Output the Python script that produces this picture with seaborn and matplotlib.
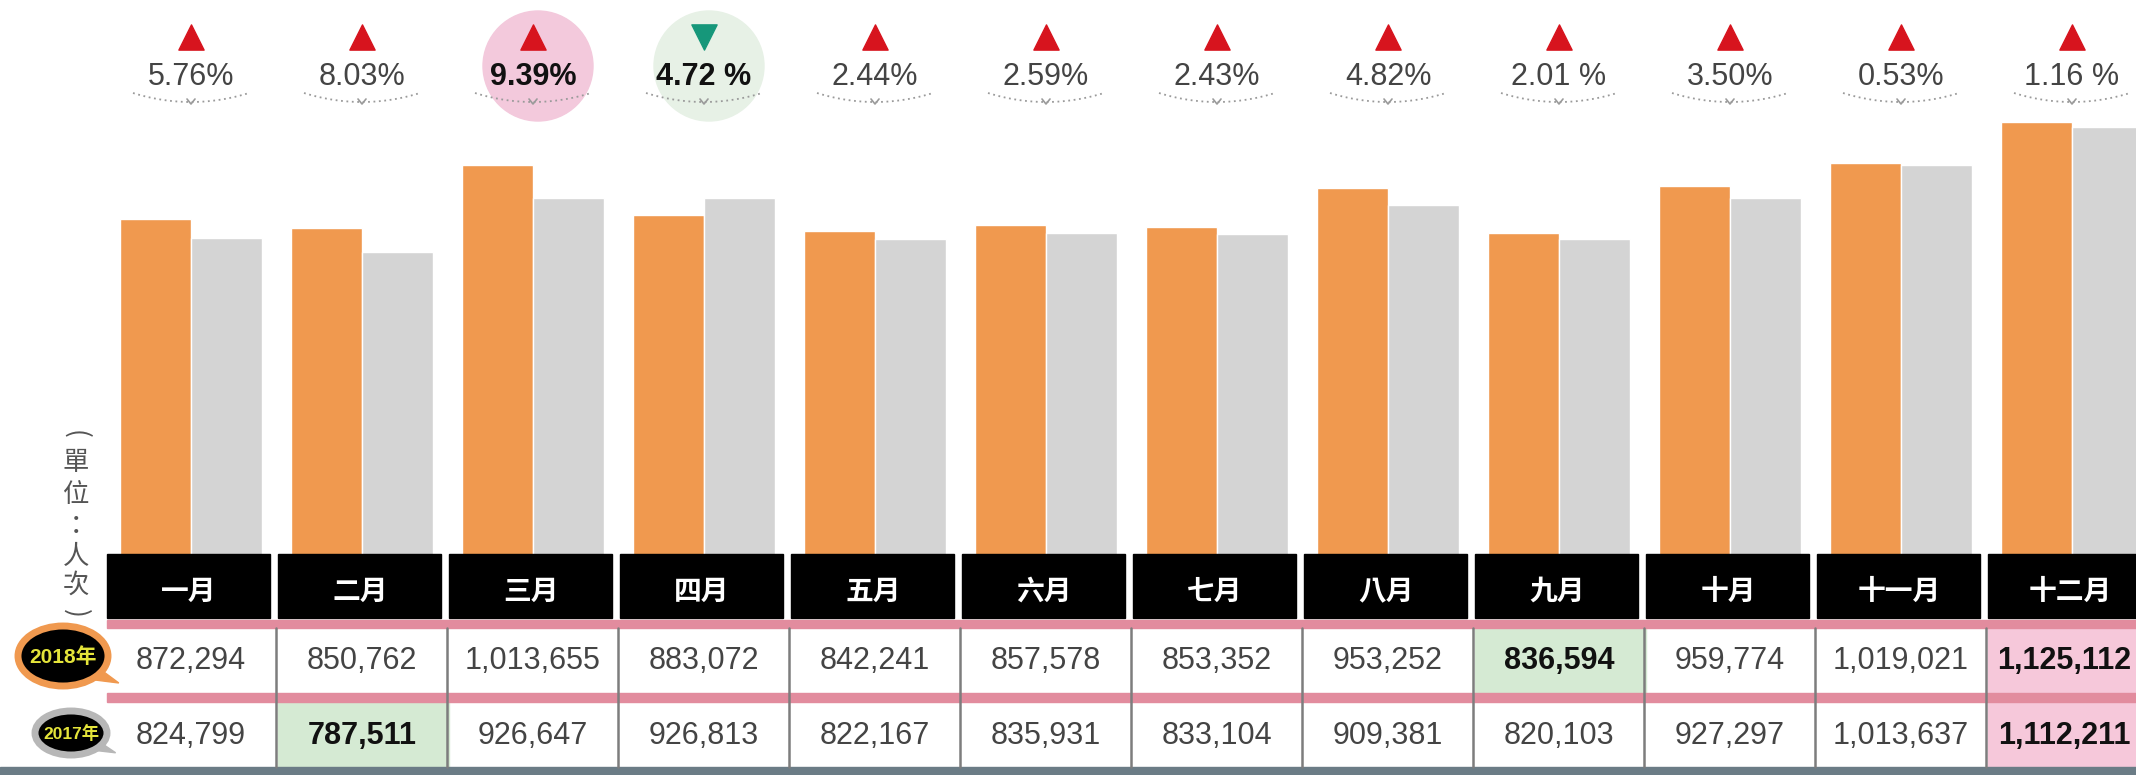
import numpy as np
import pandas as pd
import matplotlib
matplotlib.use("Agg")
import matplotlib.pyplot as plt
from matplotlib.patches import Rectangle, Ellipse, Circle, Polygon
import seaborn as sns

# data
months = ["一月", "二月", "三月", "四月", "五月", "六月",
          "七月", "八月", "九月", "十月", "十一月", "十二月"]
v2018 = [872294, 850762, 1013655, 883072, 842241, 857578,
         853352, 953252, 836594, 959774, 1019021, 1125112]
v2017 = [824799, 787511, 926647, 926813, 822167, 835931,
         833104, 909381, 820103, 927297, 1013637, 1112211]
pct_labels = ["5.76%", "8.03%", "9.39%", "4.72 %", "2.44%", "2.59%",
              "2.43%", "4.82%", "2.01 %", "3.50%", "0.53%", "1.16 %"]
pct_up = [True, True, True, False, True, True,
          True, True, True, True, True, True]

# highlighted cells (index -> background colour)
hl_pct = {2: "#f3c9dc", 3: "#e7f1e6"}
hl_2018 = {8: "#d5ead3", 11: "#f6c8da"}
hl_2017 = {1: "#d5ead3", 11: "#f6c8da"}

ORANGE = "#f0994f"
GREY = "#d4d4d4"
NUM_FONT = ["Liberation Sans", "DejaVu Sans"]
CJK_FONT = ["Noto Sans CJK TC", "DejaVu Sans"]

sns.set_theme(style="white")
plt.rcParams["font.family"] = NUM_FONT + ["Noto Sans CJK TC"]

W, H = 2136, 775
fig = plt.figure(figsize=(W / 100, H / 100), dpi=100)
fig.patch.set_facecolor("white")

# layout in pixels
x_first, x_step = 191, 171
base_px, px_per = 556, 3.86e-4
cx = [x_first + x_step * i for i in range(len(months))]

# bars
df = pd.DataFrame({
    "month": months * 2,
    "value": v2018 + v2017,
    "year": ["2018年"] * 12 + ["2017年"] * 12,
})
ax = fig.add_axes([0, 0, 1, 1])
sns.barplot(data=df, x="month", y="value", hue="year", order=months,
            hue_order=["2018年", "2017年"],
            palette={"2018年": ORANGE, "2017年": GREY},
            width=0.83, saturation=1, legend=False, ax=ax)
ax.set_xlim(-x_first / x_step, (W - x_first) / x_step)
ax.set_ylim((base_px - H) / px_per, base_px / px_per)
ax.axis("off")

# overlay in pixel coordinates
ov = fig.add_axes([0, 0, 1, 1])
ov.set_xlim(0, W)
ov.set_ylim(H, 0)
ov.axis("off")
ov.patch.set_alpha(0)

# percentage row
for i, x in enumerate(cx):
    if i in hl_pct:
        ov.add_patch(Circle((x + 5, 66), 55, color=hl_pct[i], zorder=1))
    if pct_up[i]:
        ov.scatter([x], [37], marker="^", s=330, color="#d7141e", zorder=3)
    else:
        ov.scatter([x], [37], marker="v", s=330, color="#16977a", zorder=3)
    bold = i in hl_pct
    ov.text(x, 77, pct_labels[i], ha="center", va="center", fontsize=22,
            family=NUM_FONT, color="#111111" if bold else "#444444",
            fontweight="bold" if bold else "normal", zorder=4)
    t = np.linspace(-1, 1, 40)
    ov.plot(x + 58 * t, 93 + 9 * (1 - t ** 2), ls=(0, (1, 2)), lw=1.3,
            color="#9a9a9a", zorder=3)
    ov.plot([x - 4, x, x + 4], [99, 104, 99], lw=1.2, color="#9a9a9a", zorder=3)

# month header boxes
for i, x in enumerate(cx):
    ov.add_patch(Rectangle((x - 84, 554), 163, 64, color="black", zorder=2))
    ov.text(x - 2, 592, months[i], ha="center", va="center", fontsize=20,
            family=CJK_FONT, fontweight="bold", color="white", zorder=3)

# table rows
ov.add_patch(Rectangle((107, 620), W - 107, 8, color="#e28c9e", zorder=2))
ov.add_patch(Rectangle((107, 693), W - 107, 9, color="#e28c9e", zorder=2))
ov.add_patch(Rectangle((0, 767), W, 8, color="#6b7c86", zorder=2))

rows = [(v2018, hl_2018, 628, 693, 661), (v2017, hl_2017, 702, 767, 736)]
for vals, hl, top, bot, ty in rows:
    for i, x in enumerate(cx):
        if i in hl:
            ov.add_patch(Rectangle((x - 84, top), x_step, bot - top,
                                   color=hl[i], zorder=1))
        bold = i in hl
        ov.text(min(x, W - 72), ty, f"{vals[i]:,}", ha="center", va="center",
                fontsize=22, family=NUM_FONT,
                color="#111111" if bold else "#444444",
                fontweight="bold" if bold else "normal", zorder=3)
for k in range(len(months) - 1):
    xs = cx[k] + 85
    ov.plot([xs, xs], [628, 767], color="#7d7d7d", lw=1.8, zorder=2)

# year badges
badges = [("2018年", (63, 656), 90, 60, ORANGE, 15),
          ("2017年", (71, 733), 72, 44, "#b7b7b7", 12.5)]
for label, (bx, by), bw, bh, edge, fs in badges:
    ov.add_patch(Polygon([[bx + bw * 0.35, by + bh * 0.15],
                          [bx + bw * 0.62, by + bh * 0.45],
                          [bx + bw * 0.25, by + bh * 0.38]],
                         color=edge, zorder=2))
    ov.add_patch(Ellipse((bx, by), bw, bh, facecolor="black", edgecolor=edge,
                         lw=5, zorder=3))
    ov.text(bx, by + 1, label, ha="center", va="center", fontsize=fs,
            family=NUM_FONT + ["Noto Sans CJK TC"], fontweight="bold",
            color="#e4e43a", zorder=4)

# vertical unit label (brackets turned for vertical writing)
unit_chars = ["(", "單", "位", "：", "人", "次", ")"]
unit_y = [434, 463, 495, 526, 556, 585, 613]
unit_rot = [-90, 0, 0, 0, 0, 0, -90]
for ch, y, r in zip(unit_chars, unit_y, unit_rot):
    ov.text(76, y, ch, ha="center", va="center", fontsize=19, rotation=r,
            family=CJK_FONT, color="#555555")

fig.savefig("out.png", dpi=100, facecolor="white")
